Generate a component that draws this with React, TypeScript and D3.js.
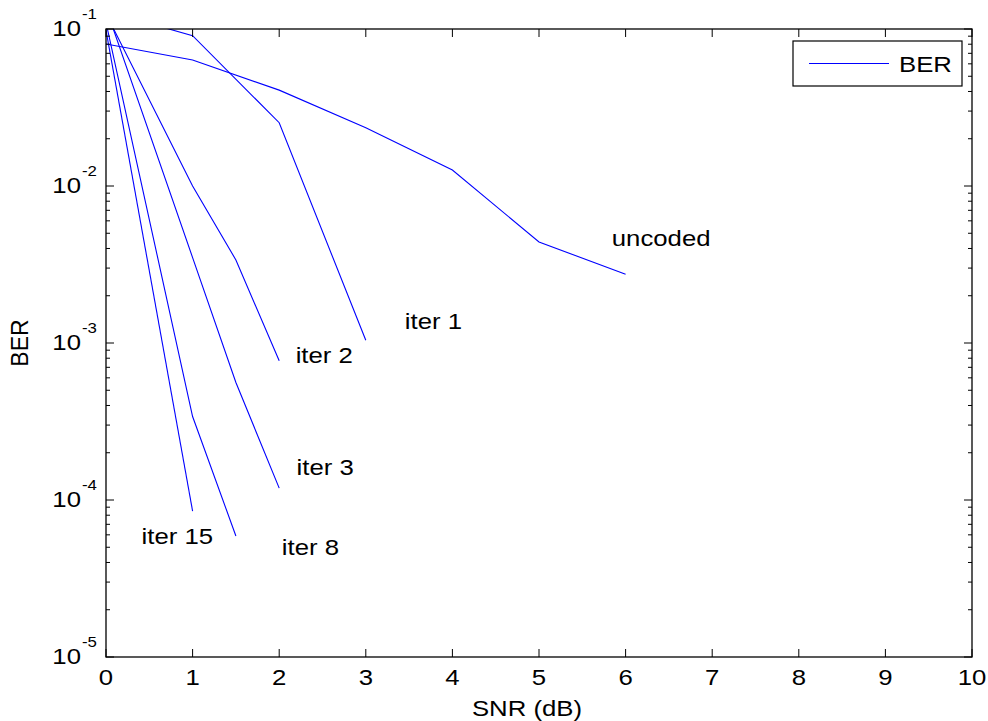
import React from "react";
import * as d3 from "d3";

const snrUncoded = [0, 1, 2, 3, 4, 5, 6];
const berUncoded = [0.0803, 0.0635, 0.0408, 0.0235, 0.01265, 0.0044, 0.00274];
const snrIter1 = [0, 1, 2, 3];
const berIter1 = [0.13, 0.0906, 0.0253, 0.00104];
const snrIter2 = [0, 1, 1.5, 2];
const berIter2 = [0.125, 0.01, 0.00338, 0.00077];
const snrIter3 = [0, 1, 1.5, 2];
const berIter3 = [0.136, 0.0035, 0.00056, 0.000119];
const snrIter8 = [0, 1, 1.5];
const berIter8 = [0.11, 0.00034, 0.000059];
const snrIter15 = [0, 1];
const berIter15 = [0.098, 0.000085];

const xTicks = [0, 1, 2, 3, 4, 5, 6, 7, 8, 9, 10];
const yDecades = [-1, -2, -3, -4, -5];

const curveLabels = [
  { text: "uncoded", x: 5.84, y: 0.00415 },
  { text: "iter 1", x: 3.45, y: 0.00122 },
  { text: "iter 2", x: 2.19, y: 0.00075 },
  { text: "iter 3", x: 2.2, y: 0.000145 },
  { text: "iter 8", x: 2.03, y: 0.0000445 },
  { text: "iter 15", x: 0.41, y: 0.0000525 },
];

const W = 988;
const H = 721;
const L = 106;
const R = 972;
const T = 29;
const B = 657;
const FONT = "'Liberation Sans', Arial, Helvetica, sans-serif";
const BLUE = "#0000ff";
const SX = 1.12;

function SText({
  x,
  y,
  size = 23,
  anchor = "start",
  children,
}: {
  x: number;
  y: number;
  size?: number;
  anchor?: string;
  children: React.ReactNode;
}) {
  return (
    <text
      transform={`translate(${x},${y}) scale(${SX},1)`}
      fontSize={size}
      textAnchor={anchor as any}
      fill="#000"
    >
      {children}
    </text>
  );
}

export default function App() {
  const x = d3.scaleLinear().domain([0, 10]).range([L, R]);
  const y = d3.scaleLog().domain([1e-5, 1e-1]).range([B, T]);
  const line = d3
    .line<[number, number]>()
    .x((d) => x(d[0]))
    .y((d) => y(d[1]));

  const series: [number[], number[]][] = [
    [snrUncoded, berUncoded],
    [snrIter1, berIter1],
    [snrIter2, berIter2],
    [snrIter3, berIter3],
    [snrIter8, berIter8],
    [snrIter15, berIter15],
  ];

  const minor: number[] = [];
  for (let e = -5; e < -1; e++) {
    for (let m = 2; m <= 9; m++) minor.push(m * Math.pow(10, e));
  }

  return (
    <svg
      width={W}
      height={H}
      style={{ position: "absolute", left: 0, top: 0, background: "#fff" }}
      fontFamily={FONT}
    >
      <defs>
        <clipPath id="plotclip">
          <rect x={L} y={T} width={R - L} height={B - T} />
        </clipPath>
      </defs>
      <rect x={0} y={0} width={W} height={H} fill="#fff" />
      <g clipPath="url(#plotclip)">
        {series.map(([xs, ys], i) => (
          <path
            key={i}
            d={line(xs.map((v, j) => [v, ys[j]] as [number, number])) || ""}
            fill="none"
            stroke={BLUE}
            strokeWidth={1.1}
          />
        ))}
      </g>
      <g stroke="#000" strokeWidth={1}>
        {xTicks.map((t) => (
          <g key={"xt" + t}>
            <line x1={x(t)} x2={x(t)} y1={B} y2={B - 8} />
            <line x1={x(t)} x2={x(t)} y1={T} y2={T + 8} />
          </g>
        ))}
        {yDecades.map((e) => (
          <g key={"yt" + e}>
            <line x1={L} x2={L + 8} y1={y(Math.pow(10, e))} y2={y(Math.pow(10, e))} />
            <line x1={R} x2={R - 8} y1={y(Math.pow(10, e))} y2={y(Math.pow(10, e))} />
          </g>
        ))}
        {minor.map((v, i) => (
          <g key={"ym" + i}>
            <line x1={L} x2={L + 4} y1={y(v)} y2={y(v)} />
            <line x1={R} x2={R - 4} y1={y(v)} y2={y(v)} />
          </g>
        ))}
      </g>
      <rect x={L} y={T} width={R - L} height={B - T} fill="none" stroke="#000" strokeWidth={1.3} />
      {xTicks.map((t) => (
        <SText key={"xl" + t} x={x(t)} y={B + 28} anchor="middle">
          {t}
        </SText>
      ))}
      {yDecades.map((e) => (
        <g key={"yl" + e}>
          <SText x={81} y={y(Math.pow(10, e)) + 7} anchor="end">
            10
          </SText>
          <SText x={82} y={y(Math.pow(10, e)) - 10} size={15}>
            {String(e)}
          </SText>
        </g>
      ))}
      <SText x={527} y={716} anchor="middle">
        SNR (dB)
      </SText>
      <text
        transform={`translate(28, ${(T + B) / 2}) rotate(-90)`}
        fontSize={23}
        textAnchor="middle"
        fill="#000"
      >
        BER
      </text>
      {curveLabels.map((c) => (
        <SText key={c.text} x={x(c.x)} y={y(c.y)}>
          {c.text}
        </SText>
      ))}
      <rect x={793} y={41} width={169} height={45} fill="#fff" stroke="#000" strokeWidth={1.2} />
      <line x1={809} x2={889} y1={63.5} y2={63.5} stroke={BLUE} strokeWidth={1} />
      <SText x={899} y={72}>
        BER
      </SText>
    </svg>
  );
}
